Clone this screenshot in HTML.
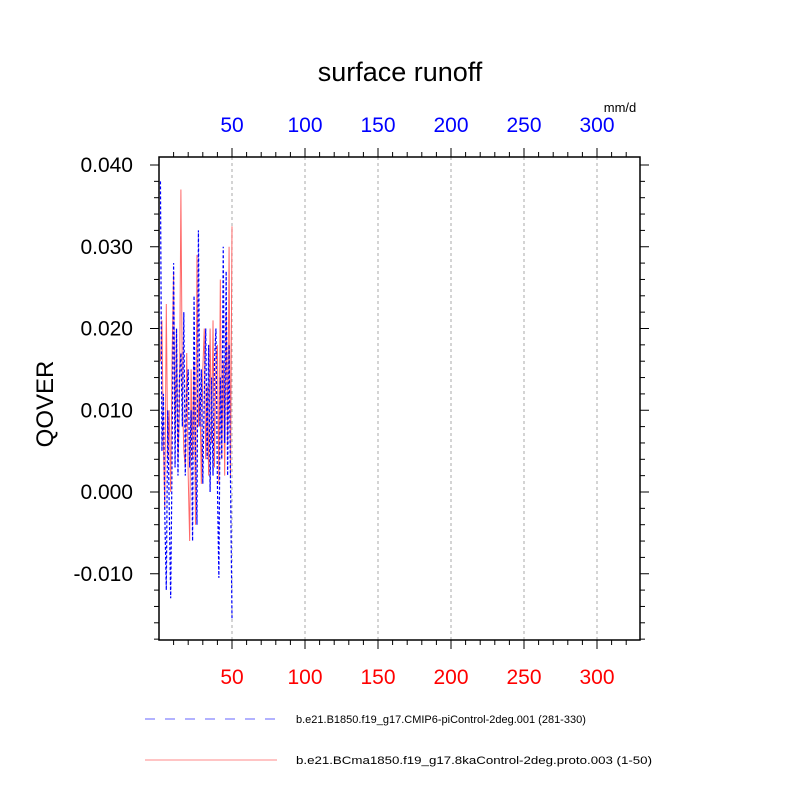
<!DOCTYPE html>
<html><head><meta charset="utf-8"><style>body{margin:0;background:#fff}svg{display:block}text{font-family:"Liberation Sans",sans-serif}</style></head>
<body>
<svg id="chart" width="800" height="800"></svg>
<script>
const xTicks=[50,100,150,200,250,300];
const yTicks=[-0.01,0,0.01,0.02,0.03,0.04];
const yTickLabels=["-0.010","0.000","0.010","0.020","0.030","0.040"];
const blueVals=[0.038,0.005,0.012,-0.003,-0.012,0.010,-0.002,-0.013,0.005,0.028,0.003,0.020,0.002,0.014,0.017,0.008,0.022,0.002,0.012,0.015,0.003,0.010,-0.006,0.024,0.005,-0.004,0.032,0.008,0.015,0.001,0.012,0.020,0.004,0.018,0.000,0.014,0.002,0.016,0.020,0.001,-0.0105,0.014,0.004,0.030,0.006,0.027,0.002,0.018,0.001,-0.0155];
const redVals=[0.016,0.021,0.006,-0.002,0.023,0.004,0.010,0.000,0.017,0.027,0.006,0.020,0.004,0.010,0.037,0.012,0.005,0.003,0.017,0.002,-0.006,0.015,0.004,0.016,-0.004,0.029,0.008,0.012,0.001,0.015,0.020,0.004,0.013,0.002,0.020,0.006,0.021,0.003,0.016,0.018,0.001,0.026,0.004,0.016,0.002,0.022,0.006,0.030,0.002,0.0325];
const NS="http://www.w3.org/2000/svg";
const svg=document.getElementById('chart');
const L=159,R=640,T=157,B=640;
const xs=v=>L+v*1.46;
const ys=v=>492-v*8175;
function mk(tag,at,txt){const e=document.createElementNS(NS,tag);for(const k in at)e.setAttribute(k,at[k]);if(txt!==undefined)e.textContent=txt;svg.appendChild(e);return e;}
let e;
e=mk('text',{x:400,y:81,'text-anchor':'middle','font-size':27},'surface runoff');


e=mk('text',{x:620,y:112,'text-anchor':'middle','font-size':13},'mm/d');


e=mk('text',{x:0,y:0,'text-anchor':'middle','font-size':24,transform:'translate(53,404) rotate(-90)'},'QOVER');


xTicks.forEach(t=>{e=mk('line',{x1:xs(t),x2:xs(t),y1:T,y2:B,stroke:'#aaa','stroke-dasharray':'3,3','stroke-width':1});

});
for(let v=10;v<=330;v+=10){const x=xs(v);if(x>R)break;const big=v%50==0;
mk('line',{x1:x,x2:x,y1:T,y2:T-(big?9:5),stroke:'#000'});mk('line',{x1:x,x2:x,y1:B,y2:B+(big?9:5),stroke:'#000'});}
xTicks.forEach(t=>{
e=mk('text',{x:xs(t),y:132,'text-anchor':'middle','font-size':21,fill:'#00f'},String(t));


e=mk('text',{x:xs(t),y:684,'text-anchor':'middle','font-size':21,fill:'#f00'},String(t));

});
for(let i=-9;i<=20;i++){const v=i*0.002;const y=ys(v);if(y<T||y>B)continue;const big=i%5==0;
mk('line',{x1:L,x2:L-(big?9:5),y1:y,y2:y,stroke:'#000'});mk('line',{x1:R,x2:R+(big?9:5),y1:y,y2:y,stroke:'#000'});}
yTicks.forEach((t,i)=>{e=mk('text',{x:133,y:ys(t)+7,'text-anchor':'end','font-size':21},yTickLabels[i]);

});
function pts(a){return a.map((v,i)=>xs(i+1)+','+ys(v)).join(' ');}
e=mk('polyline',{points:pts(redVals),fill:'none',stroke:'#f44','stroke-width':1,'stroke-opacity':0.8});


e=mk('polyline',{points:pts(blueVals),fill:'none',stroke:'#00f','stroke-width':1.2,'stroke-dasharray':'3,2'});


e=mk('rect',{x:L,y:T,width:R-L,height:B-T,fill:'none',stroke:'#000','stroke-width':1.5});


e=mk('line',{x1:145,x2:277,y1:719,y2:719,stroke:'#66f','stroke-dasharray':'10,10'});


e=mk('text',{x:296,y:723,'font-size':11},'b.e21.B1850.f19_g17.CMIP6-piControl-2deg.001 (281-330)');


e=mk('line',{x1:145,x2:277,y1:760,y2:760,stroke:'#f88'});


e=mk('text',{x:296,y:764,'font-size':11,textLength:356,lengthAdjust:'spacingAndGlyphs'},'b.e21.BCma1850.f19_g17.8kaControl-2deg.proto.003 (1-50)');


</script>
</body></html>
